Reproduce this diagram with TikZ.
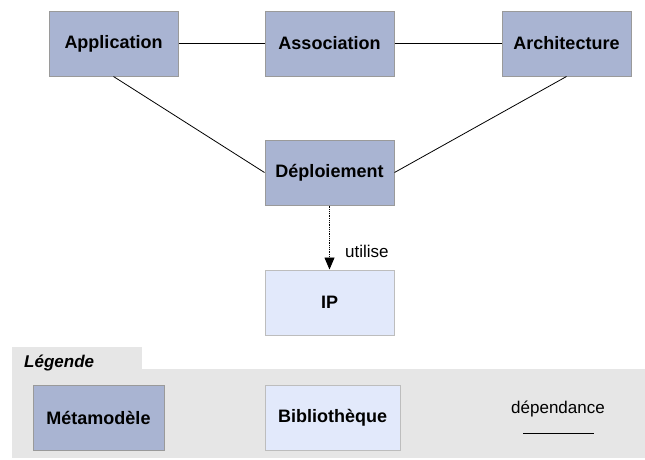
\documentclass[tikz,border=0pt]{standalone}
\usepackage{fontspec}
\setmainfont{Liberation Sans}
\usetikzlibrary{arrows.meta}
\definecolor{metafill}{HTML}{A9B4D2}
\definecolor{metaline}{HTML}{9A9A9A}
\definecolor{libfill}{HTML}{E2E9FB}
\definecolor{libline}{HTML}{BDBDBD}
\definecolor{legendbg}{HTML}{E6E6E6}
\begin{document}
\begin{tikzpicture}[x=1pt,y=-1pt,
    meta/.style={draw=metaline,fill=metafill,line width=1pt,minimum width=129pt,
      minimum height=65pt,inner sep=0pt,font=\fontsize{18}{21}\selectfont\bfseries},
    lib/.style={draw=libline,fill=libfill,line width=1pt,minimum width=129pt,
      minimum height=65pt,inner sep=0pt,font=\fontsize{18}{21}\selectfont\bfseries},
    plain/.style={inner sep=0pt,font=\fontsize{17}{20}\selectfont}]
  \useasboundingbox (0,0) rectangle (645,459);
  % legend background
  \fill[legendbg] (12,347) rectangle (142,369);
  \fill[legendbg] (12,369) rectangle (645,458);
  \node[plain,anchor=west,font=\fontsize{17}{20}\selectfont\bfseries\itshape] (leg) at (24,363) {Légende};
  % nodes
  \draw
    (113.5,43.5) node[meta] (app){Application}
    (329.5,43.5) node[meta] (assoc){Association}
    (566.5,43.5) node[meta] (arch){Architecture}
    (329.5,172.5) node[meta] (depl){Déploiement}
    (329.5,302.5) node[lib] (ip){IP};
  \begin{scope}[line width=0.8pt]
    \draw (app) to (assoc);
    \draw (assoc) to (arch);
    \draw (app.south) to (depl.west);
    \draw (arch.south) to (depl.east);
    \draw[densely dotted,-{Triangle[length=12pt,width=10pt]}] (depl) to (ip);
  \end{scope}
  \node[plain,anchor=west] (uses) at (345,251) {utilise};
  % legend items
  \node[meta,minimum width=131pt] (legmeta) at (98.5,417.5) {Métamodèle};
  \node[lib,minimum width=135pt] (leglib) at (332.5,417.5) {Bibliothèque};
  \node[plain] (legdep) at (558,409) {dépendance};
  \coordinate (depa) at (523,433);
  \coordinate (depb) at (594,433);
  \draw[line width=0.8pt] (depa) -- (depb);
\end{tikzpicture}
\end{document}
